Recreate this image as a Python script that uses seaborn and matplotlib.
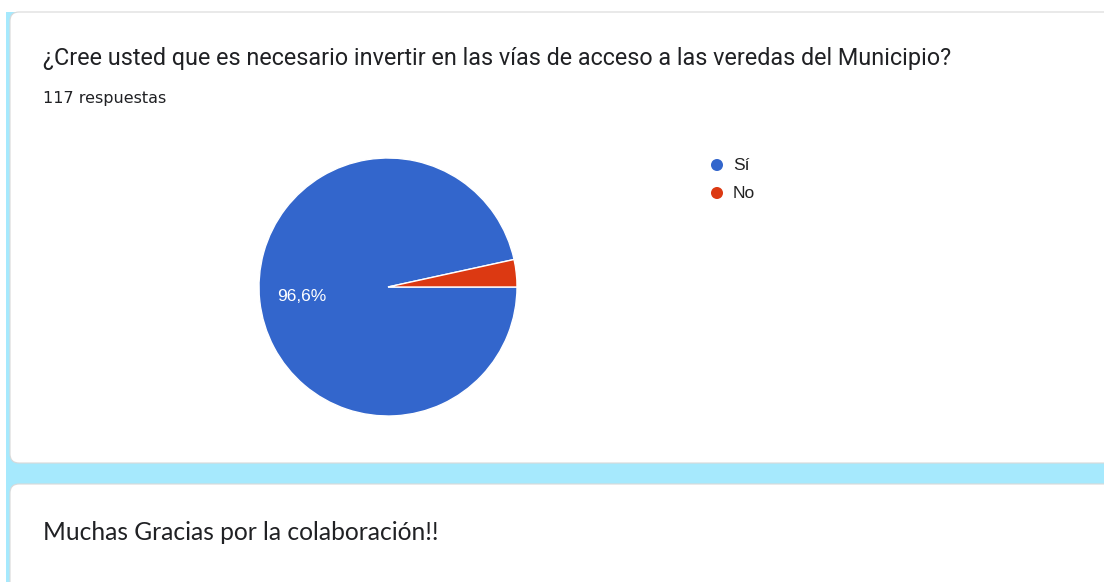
import matplotlib
matplotlib.use("Agg")
import matplotlib.pyplot as plt
from matplotlib.patches import FancyBboxPatch, Rectangle
import seaborn as sns

# Survey answers
question = "¿Cree usted que es necesario invertir en las vías de acceso a las veredas del Municipio?"
responses_label = "117 respuestas"
answers = ["Sí", "No"]
counts = [113, 4]
answer_colors = ["#3366cc", "#dc3912"]
closing_text = "Muchas Gracias por la colaboración!!"

sns.set_theme(style="white")
plt.rcParams["font.family"] = ["Roboto", "DejaVu Sans"]

W, H = 1104, 582
fig = plt.figure(figsize=(W / 100, H / 100), dpi=100)
fig.patch.set_facecolor("white")

# Page background and cards, drawn in pixel coordinates
bg = fig.add_axes([0, 0, 1, 1])
bg.set_xlim(0, W)
bg.set_ylim(H, 0)
bg.axis("off")
bg.add_patch(Rectangle((6, 12), W, H, facecolor="#a6e9fd", edgecolor="none"))
for y0, y1 in [(12, 463), (484, 640)]:
    bg.add_patch(FancyBboxPatch((10, y0), W + 40, y1 - y0,
                                boxstyle="round,pad=0,rounding_size=9",
                                facecolor="white", edgecolor="#d9d9d9", linewidth=0.8))

bg.text(43, 58, question, fontsize=16.8, color="#202124", va="center", ha="left")
bg.text(43, 99, responses_label, fontsize=11.5, color="#202124", va="center", ha="left",
        family=["DejaVu Sans"])
bg.text(43, 533, closing_text, fontsize=17.7, color="#202124", va="center", ha="left",
        family=["Lato", "DejaVu Sans"])

# Pie chart
cx, cy, r = 388, 287, 129
pie_ax = fig.add_axes([(cx - r) / W, 1 - (cy + r) / H, 2 * r / W, 2 * r / H])


def pct_label(p):
    return f"{p:.1f}%".replace(".", ",") if p >= 5 else ""


wedges, _, autotexts = pie_ax.pie(
    counts, colors=answer_colors, startangle=0, counterclock=False,
    autopct=pct_label, pctdistance=0.67,
    wedgeprops=dict(edgecolor="white", linewidth=1.0),
    textprops=dict(color="white", fontsize=12.5, family=["Liberation Sans"]),
)
pie_ax.set_aspect("equal")
pie_ax.set_xlim(-1, 1)
pie_ax.set_ylim(-1, 1)

# Legend
for i, (lab, col) in enumerate(zip(answers, answer_colors)):
    y = 165 + i * 28
    bg.scatter([717], [y], s=75, color=col, edgecolor="none")
    bg.text(733, y, lab, fontsize=12.5, color="#222222", va="center", ha="left",
            family=["Liberation Sans"])

fig.savefig("out.png", dpi=100, facecolor="white")
